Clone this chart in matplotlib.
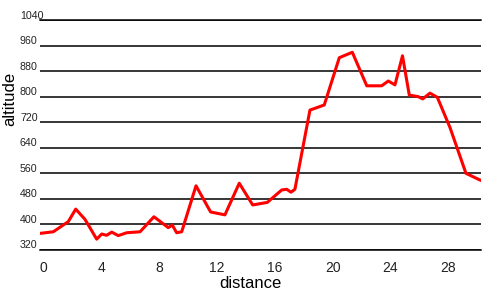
import matplotlib
matplotlib.use("Agg")
import matplotlib.pyplot as plt
from matplotlib.transforms import ScaledTranslation

plt.rcParams['font.family'] = ['Liberation Sans', 'DejaVu Sans']

#? Datos
distancia = [0, 0.92, 1.96, 2.47, 3.11, 3.92, 4.27, 4.61, 4.96, 5.41, 6.0, 6.92,
             7.88, 8.87, 9.15, 9.45, 9.80, 10.79, 11.8, 12.79, 13.78, 14.71,
             15.72, 16.72, 17.06, 17.36, 17.63, 18.67, 19.66, 20.7, 21.6, 22.6,
             23.63, 24.09, 24.55, 25.07, 25.54, 26.16, 26.47, 26.97, 27.48,
             28.35, 29.46, 30.43]
altitud = [372, 377, 409, 448, 416, 354, 370, 366, 376, 365, 374, 377,
           424, 390, 398, 374, 377, 521, 439, 430, 529, 461,
           469, 508, 510, 501, 510, 758, 774, 922, 939, 834,
           834, 849, 837, 928, 805, 800, 793, 811, 798,
           704, 560, 539]
ticks_y = [320, 400, 480, 560, 640, 720, 800, 880, 960, 1040]
ticks_x = [0, 4, 8, 12, 16, 20, 24, 28]

fig = plt.figure(figsize=(5, 3), dpi=100)
ax = fig.add_axes([0.08, 0.1667, 0.882, 0.7666])

ax.plot(distancia, altitud, color="red", linewidth=2.2, zorder=3)

ax.set_xlim(0, 30.5)
ax.set_ylim(320, 1040)
ax.set_yticks(ticks_y)
ax.set_xticks(ticks_x)
ax.grid(axis="y", color="black", linewidth=1.1)
ax.grid(axis="x", visible=False)

for s in ["left", "right"]:
    ax.spines[s].set_visible(False)
for s in ["top", "bottom"]:
    ax.spines[s].set_linewidth(1.1)

ax.tick_params(axis="y", length=0, pad=14.4, labelsize=7.7, labelcolor="#222222")
ax.tick_params(axis="x", length=0, pad=8, labelsize=10, labelcolor="#222222")

#! Etiquetas Y alineadas a la izquierda, encima de cada linea
desp_y = ScaledTranslation(0, 0.015, fig.dpi_scale_trans)
for lbl in ax.get_yticklabels():
    lbl.set_horizontalalignment("left")
    lbl.set_verticalalignment("baseline")
    lbl.set_transform(lbl.get_transform() + desp_y)

#! Etiquetas X desplazadas un poco a la derecha
desp_x = ScaledTranslation(0.035, 0, fig.dpi_scale_trans)
for lbl in ax.get_xticklabels():
    lbl.set_transform(lbl.get_transform() + desp_x)

ax.set_xlabel("distance", fontsize=12, va="center")
ax.set_ylabel("altitude", fontsize=12, va="center")
ax.xaxis.set_label_coords(0.476, -0.145)
ax.yaxis.set_label_coords(-0.068, 0.657)

plt.savefig("out.png", dpi=100)
